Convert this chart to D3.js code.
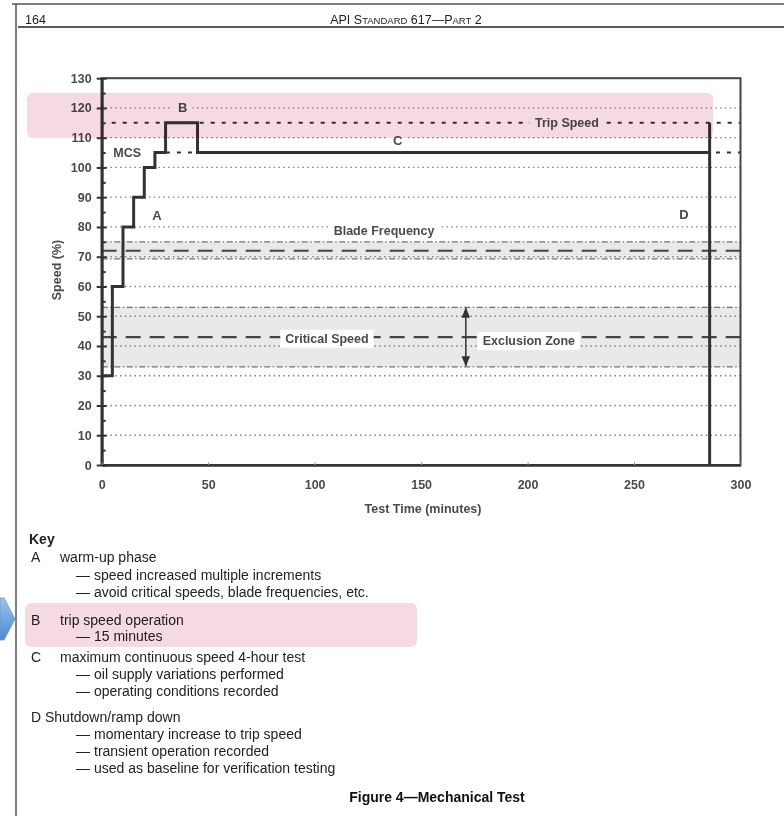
<!DOCTYPE html>
<html>
<head>
<meta charset="utf-8">
<script src="https://cdn.jsdelivr.net/npm/d3@7"></script>
<style>
  html, body { margin: 0; padding: 0; background: #fff; }
  svg { display: block; }
  text { font-family: "Liberation Sans", Arial, sans-serif; }
  .hl { mix-blend-mode: multiply; }
</style>
</head>
<body>
<svg id="chart" width="784" height="816"></svg>
<script>
// ---------------- data ----------------
const stepTimes  = [0, 5, 10, 15, 20, 25, 30, 45, 285.5, 285.5];
const stepSpeeds = [30, 60, 80, 90, 100, 105, 115, 105, 115, 0];

const yTicks = [0, 10, 20, 30, 40, 50, 60, 70, 80, 90, 100, 110, 120, 130];
const yMinorTicks = [5, 15, 25, 35, 45, 55, 65, 75, 85, 95, 105, 115, 125];
const xTicks = [0, 50, 100, 150, 200, 250, 300];
const gridLevels = [10, 20, 30, 40, 50, 60, 70, 80, 90, 100, 110, 120];

const tripSpeed = 115;
const mcsSpeed = 105;
const mcsLineStart = 25;
const bladeBand = [69.3, 75];
const bladeCenter = 72;
const criticalBand = [33, 53];
const criticalCenter = 43;
const exclusionTime = 171;

const annotations = [
  { text: "B", t: 38, v: 120.3, bg: true },
  { text: "C", t: 139, v: 109, bg: true },
  { text: "MCS", t: 12, v: 105, bg: true },
  { text: "A", t: 26, v: 83.8, bg: false },
  { text: "D", t: 273.4, v: 84.3, bg: false },
  { text: "Blade Frequency", t: 132.6, v: 78.8, bg: true },
  { text: "Trip Speed", t: 218.5, v: 115, bg: true },
  { text: "Critical Speed", t: 105.8, v: 42.6, bg: true },
  { text: "Exclusion Zone", t: 200.6, v: 41.8, bg: true }
];

const keyLines = [
  { kind: "head", text: "Key" },
  { kind: "letter", letter: "A", text: "warm-up phase" },
  { kind: "item", text: "speed increased multiple increments" },
  { kind: "item", text: "avoid critical speeds, blade frequencies, etc." },
  { kind: "letter", letter: "B", text: "trip speed operation" },
  { kind: "item", text: "15 minutes" },
  { kind: "letter", letter: "C", text: "maximum continuous speed 4-hour test" },
  { kind: "item", text: "oil supply variations performed" },
  { kind: "item", text: "operating conditions recorded" },
  { kind: "letterD", letter: "D", text: "Shutdown/ramp down" },
  { kind: "item", text: "momentary increase to trip speed" },
  { kind: "item", text: "transient operation recorded" },
  { kind: "item", text: "used as baseline for verification testing" }
];
const keyY = [539, 557, 575, 592, 620, 636, 657, 674, 691, 717, 734, 751, 768];

// ---------------- layout ----------------
const svg = d3.select("#chart");
const x = d3.scaleLinear().domain([0, 300]).range([101.7, 740.5]);
const y = d3.scaleLinear().domain([0, 130]).range([465, 78.2]);

const labelInk = "#4a4a4a";
const defs = svg.append("defs");

// page frame & header
svg.append("line").attr("x1", 12).attr("x2", 784).attr("y1", 4).attr("y2", 4)
  .attr("stroke", "#555").attr("stroke-width", 1.5);
svg.append("line").attr("x1", 16).attr("x2", 16).attr("y1", 4).attr("y2", 816)
  .attr("stroke", "#555").attr("stroke-width", 1.5);
svg.append("line").attr("x1", 18).attr("x2", 784).attr("y1", 27).attr("y2", 27)
  .attr("stroke", "#222").attr("stroke-width", 1.3);
svg.append("text").attr("x", 25).attr("y", 24).attr("font-size", 12.5).attr("fill", "#222").text("164");
const title = svg.append("text").attr("x", 406).attr("y", 24).attr("font-size", 12.5)
  .attr("fill", "#222").attr("text-anchor", "middle");
[["API S", 12.5], ["TANDARD", 9.5], [" 617—P", 12.5], ["ART", 9.5], [" 2", 12.5]].forEach(([s, fs]) => {
  title.append("tspan").attr("font-size", fs).text(s);
});

// bands
const plot = svg.append("g");
[bladeBand, criticalBand].forEach(b => {
  plot.append("rect").attr("x", x(0)).attr("width", x(300) - x(0))
    .attr("y", y(b[1])).attr("height", y(b[0]) - y(b[1]))
    .attr("fill", "#e9e9e9");
});

// dotted grid
plot.selectAll(".grid").data(gridLevels).join("line")
  .attr("x1", x(0) + 4).attr("x2", x(300))
  .attr("y1", d => y(d)).attr("y2", d => y(d))
  .attr("stroke", "#7a7a7a").attr("stroke-width", 1.3)
  .attr("stroke-dasharray", "1.4,3.4");

// dash-dot band edges
[bladeBand[0], bladeBand[1], criticalBand[0], criticalBand[1]].forEach(v => {
  plot.append("line").attr("x1", x(0)).attr("x2", x(300))
    .attr("y1", y(v)).attr("y2", y(v))
    .attr("stroke", "#707070").attr("stroke-width", 1.3)
    .attr("stroke-dasharray", "6,2.5,1.5,2.5");
});

// long dashes (centres)
[bladeCenter, criticalCenter].forEach(v => {
  plot.append("line").attr("x1", x(0)).attr("x2", x(300))
    .attr("y1", y(v)).attr("y2", y(v))
    .attr("stroke", "#444").attr("stroke-width", 2.2)
    .attr("stroke-dasharray", "15,9");
});

// trip speed & MCS short dashes
plot.append("line").attr("x1", x(0) + 10).attr("x2", x(300))
  .attr("y1", y(tripSpeed)).attr("y2", y(tripSpeed))
  .attr("stroke", "#333").attr("stroke-width", 2).attr("stroke-dasharray", "4,7");
plot.append("line").attr("x1", x(mcsLineStart)).attr("x2", x(300))
  .attr("y1", y(mcsSpeed)).attr("y2", y(mcsSpeed))
  .attr("stroke", "#333").attr("stroke-width", 2).attr("stroke-dasharray", "4,7");

// exclusion arrow
defs.html(
  '<marker id="ah" viewBox="0 0 10 10" refX="9" refY="5" markerWidth="7" markerHeight="8" orient="auto-start-reverse">' +
  '<path d="M0,1 L10,5 L0,9 z" fill="#333"/></marker>');
plot.append("line").attr("x1", x(exclusionTime)).attr("x2", x(exclusionTime))
  .attr("y1", y(criticalBand[1]) + 1).attr("y2", y(criticalBand[0]) - 1)
  .attr("stroke", "#333").attr("stroke-width", 1.5)
  .attr("marker-start", "url(#ah)").attr("marker-end", "url(#ah)");

// annotation labels
annotations.forEach(a => {
  const g = plot.append("g");
  const t = g.append("text").attr("x", x(a.t)).attr("y", y(a.v)).attr("dy", "0.36em")
    .attr("text-anchor", "middle").attr("font-size", a.text.length > 1 ? 12.5 : 13)
    .attr("font-weight", "bold").attr("fill", labelInk).text(a.text);
  if (a.bg) {
    const bb = t.node().getBBox();
    const left = a.text === "MCS" ? x(0) + 2 : bb.x - 5;
    g.insert("rect", "text").attr("x", left).attr("y", bb.y - 2)
      .attr("width", bb.x + bb.width + 5 - left).attr("height", bb.height + 4).attr("fill", "#fff");
  }
});

// step line
const line = d3.line().x(d => x(d[0])).y(d => y(d[1])).curve(d3.curveStepAfter);
plot.append("path").datum(stepTimes.map((t, i) => [t, stepSpeeds[i]]))
  .attr("d", line).attr("fill", "none").attr("stroke", "#333")
  .attr("stroke-width", 3).attr("stroke-linejoin", "miter");

// frame
plot.append("rect").attr("x", x(0)).attr("y", y(130))
  .attr("width", x(300) - x(0)).attr("height", y(0) - y(130))
  .attr("fill", "none").attr("stroke", "#444").attr("stroke-width", 2);

// axes
const yAxis = svg.append("g").attr("transform", `translate(${x(0)},0)`)
  .call(d3.axisLeft(y).tickValues(yTicks).tickSize(5).tickSizeOuter(0).tickPadding(5));
yAxis.select(".domain").attr("stroke", "#333").attr("stroke-width", 3);
yAxis.selectAll(".tick line").attr("stroke", "#333").attr("stroke-width", 2);
yAxis.selectAll(".tick text").attr("font-size", 12.5).attr("font-weight", "bold")
  .attr("fill", labelInk).attr("font-family", "Liberation Sans, Arial, sans-serif");

const yInner = svg.append("g").attr("transform", `translate(${x(0)},0)`)
  .call(d3.axisRight(y).tickValues(yTicks).tickSize(5).tickFormat(""));
yInner.select(".domain").remove();
yInner.selectAll(".tick line").attr("stroke", "#333").attr("stroke-width", 2);
const yMinor = svg.append("g").attr("transform", `translate(${x(0)},0)`)
  .call(d3.axisRight(y).tickValues(yMinorTicks).tickSize(4).tickFormat(""));
yMinor.select(".domain").remove();
yMinor.selectAll(".tick line").attr("stroke", "#333").attr("stroke-width", 2);

const xAxis = svg.append("g").attr("transform", `translate(0,${y(0)})`)
  .call(d3.axisBottom(x).tickValues(xTicks).tickSizeInner(-3).tickSizeOuter(0).tickPadding(15));
xAxis.select(".domain").attr("stroke", "#333").attr("stroke-width", 2.5);
xAxis.selectAll(".tick line").attr("stroke", "#999").attr("stroke-width", 1);
xAxis.selectAll(".tick text").attr("font-size", 12.5).attr("font-weight", "bold")
  .attr("fill", labelInk).attr("font-family", "Liberation Sans, Arial, sans-serif");

// axis titles
svg.append("text").attr("transform", "translate(61,270) rotate(-90)")
  .attr("text-anchor", "middle").attr("font-size", 12.5).attr("font-weight", "bold")
  .attr("fill", labelInk).text("Speed (%)");
svg.append("text").attr("x", 423).attr("y", 513)
  .attr("text-anchor", "middle").attr("font-size", 12.5).attr("font-weight", "bold")
  .attr("fill", labelInk).text("Test Time (minutes)");

// pink highlight over trip-speed region (multiply blend keeps ink dark)
svg.append("rect").attr("class", "hl").attr("x", 27).attr("y", 93).attr("width", 686).attr("height", 45)
  .attr("rx", 6).attr("fill", "#f6dae1");

// key
const key = svg.append("g").attr("fill", "#222").attr("font-size", 14);
keyLines.forEach((k, i) => {
  const yy = keyY[i];
  if (k.kind === "head") {
    key.append("text").attr("x", 29).attr("y", yy).attr("dy", "0.36em")
      .attr("font-weight", "bold").text(k.text);
  } else if (k.kind === "letter") {
    key.append("text").attr("x", 31).attr("y", yy).attr("dy", "0.36em").text(k.letter);
    key.append("text").attr("x", 60).attr("y", yy).attr("dy", "0.36em").text(k.text);
  } else if (k.kind === "letterD") {
    key.append("text").attr("x", 31).attr("y", yy).attr("dy", "0.36em").text(k.letter + " " + k.text);
  } else {
    key.append("text").attr("x", 76).attr("y", yy).attr("dy", "0.36em").text("—");
    key.append("text").attr("x", 94).attr("y", yy).attr("dy", "0.36em").text(k.text);
  }
});

// pink highlight over key B
svg.append("rect").attr("class", "hl").attr("x", 25).attr("y", 603).attr("width", 392).attr("height", 44)
  .attr("rx", 6).attr("fill", "#f6dae1");

// blue pointer arrow
const grad = defs.append("linearGradient").attr("id", "bl")
  .attr("x1", 0).attr("x2", 0).attr("y1", 0).attr("y2", 1);
grad.append("stop").attr("offset", 0).attr("stop-color", "#9cc3ea");
grad.append("stop").attr("offset", 1).attr("stop-color", "#4b8ad0");
svg.append("path").attr("d", "M0,598 L4,598 L15,619 L4,640 L0,640 Z")
  .attr("fill", "url(#bl)").attr("stroke", "#5f95cf").attr("stroke-width", 0.8);

// caption
svg.append("text").attr("x", 437).attr("y", 797).attr("dy", "0.36em")
  .attr("text-anchor", "middle").attr("font-size", 14).attr("font-weight", "bold")
  .attr("fill", "#111").text("Figure 4—Mechanical Test");
</script>
</body>
</html>
